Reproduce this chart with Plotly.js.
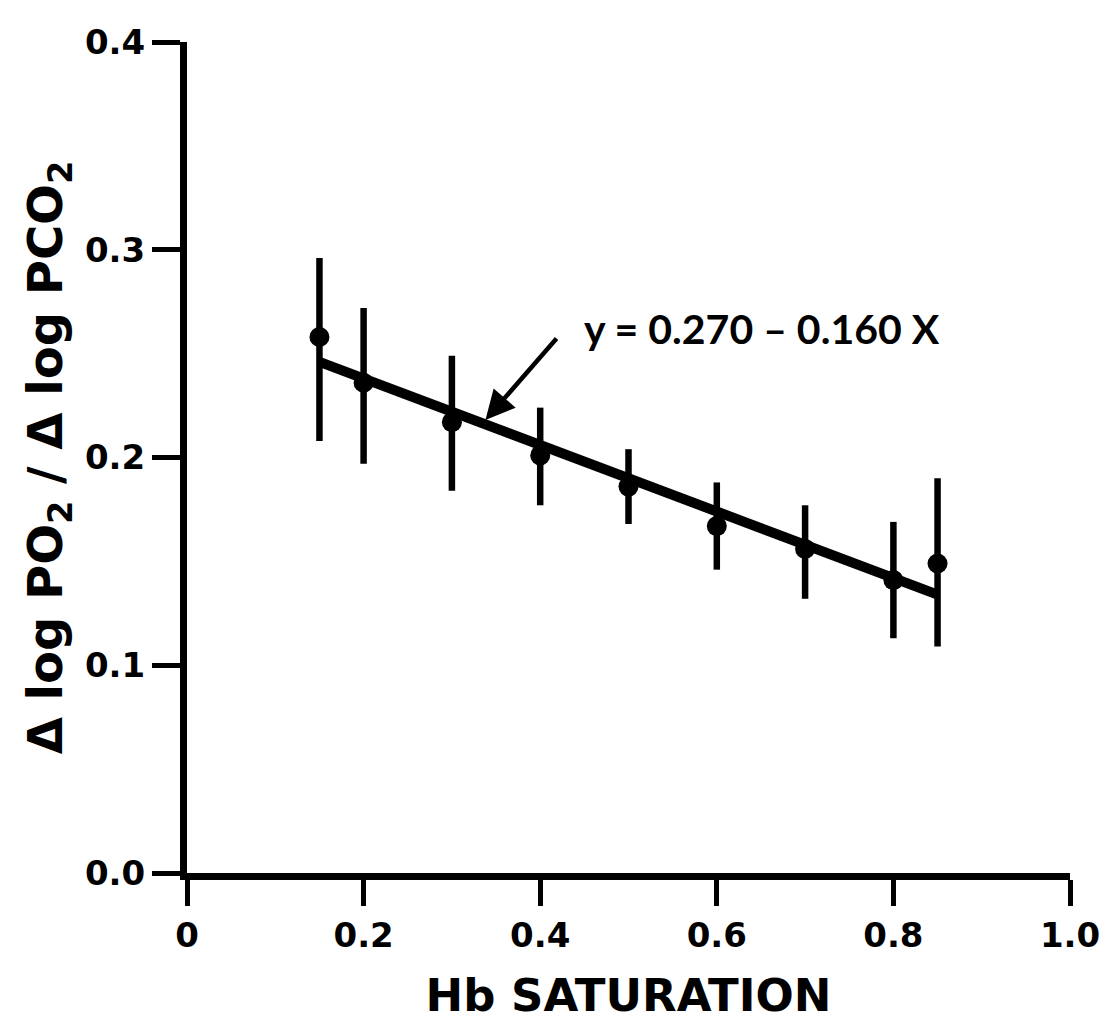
<!DOCTYPE html>
<html>
<head>
<meta charset="utf-8">
<script src="https://cdn.plot.ly/plotly-3.0.1.min.js"></script>
<style>html,body{margin:0;padding:0;background:#fff;}#chart{width:1105px;height:1026px;}</style>
</head>
<body>
<div id="chart"></div>
<script>
// Data
const saturation = [0.15, 0.20, 0.30, 0.40, 0.50, 0.60, 0.70, 0.80, 0.85];
const ratio      = [0.258, 0.236, 0.217, 0.201, 0.186, 0.167, 0.156, 0.141, 0.149];
const errUpper   = [0.296, 0.272, 0.249, 0.224, 0.204, 0.188, 0.177, 0.169, 0.190];
const errLower   = [0.208, 0.197, 0.184, 0.177, 0.168, 0.146, 0.132, 0.113, 0.109];
const fitX = [0.15, 0.85];
const fitY = [0.246, 0.134];
const equationText = "y = 0.270 \u2013 0.160 X";
const xTickVals = [0, 0.2, 0.4, 0.6, 0.8, 1.0];
const xTickText = ["0", "0.2", "0.4", "0.6", "0.8", "1.0"];
const yTickVals = [0, 0.1, 0.2, 0.3, 0.4];
const yTickText = ["0.0", "0.1", "0.2", "0.3", "0.4"];

const plus = ratio.map((v, i) => errUpper[i] - v);
const minus = ratio.map((v, i) => v - errLower[i]);

const FONT = "'DejaVu Sans', sans-serif";
const EQFONT = "Lato, 'DejaVu Sans', sans-serif";

const traces = [
  {
    x: fitX, y: fitY, mode: 'lines', type: 'scatter',
    line: {color: '#000', width: 10}, hoverinfo: 'skip', showlegend: false
  },
  {
    x: saturation, y: ratio, mode: 'markers', type: 'scatter',
    marker: {color: '#000', size: 20, symbol: 'circle'},
    error_y: {type: 'data', symmetric: false, array: plus, arrayminus: minus,
              color: '#000', thickness: 6.5, width: 0},
    showlegend: false
  }
];

const layout = {
  width: 1105, height: 1026,
  margin: {l: 187, r: 35, t: 42, b: 153},
  paper_bgcolor: '#fff', plot_bgcolor: '#fff',
  showlegend: false,
  font: {family: FONT, color: '#000', size: 28, weight: 'bold'},
  xaxis: {
    range: [0, 1], tickvals: xTickVals, ticktext: xTickText,
    showgrid: false, zeroline: false, showline: true, linecolor: '#000', linewidth: 7,
    ticks: 'outside', ticklen: 26, tickwidth: 5, tickcolor: '#000',
    tickfont: {family: FONT, size: 34, weight: 'bold'},
    title: {text: 'Hb SATURATION', font: {family: FONT, size: 45, weight: 'bold'}, standoff: 28}
  },
  yaxis: {
    range: [0, 0.4], tickvals: yTickVals, ticktext: yTickText,
    showgrid: false, zeroline: false, showline: true, linecolor: '#000', linewidth: 7,
    ticks: 'outside', ticklen: 28, tickwidth: 5, tickcolor: '#000',
    tickfont: {family: FONT, size: 34, weight: 'bold'},
    title: {text: '\u0394 log PO<sub>2</sub> / \u0394 log PCO<sub>2</sub>', font: {family: FONT, size: 48, weight: 'bold'}, standoff: 10}
  },
  annotations: [
    {
      x: 0.338, y: 0.218, xref: 'x', yref: 'y',
      ax: 0.42, ay: 0.258, axref: 'x', ayref: 'y',
      showarrow: true, arrowhead: 2, arrowsize: 1.3, arrowwidth: 4.5, arrowcolor: '#000',
      text: ''
    },
    {
      x: 0.447, y: 0.262, xref: 'x', yref: 'y', xanchor: 'left', yanchor: 'middle',
      showarrow: false, text: equationText,
      font: {family: EQFONT, size: 41, weight: 'bold', color: '#000'}
    }
  ]
};

Plotly.newPlot('chart', traces, layout, {displayModeBar: false, staticPlot: true});
</script>
</body>
</html>
